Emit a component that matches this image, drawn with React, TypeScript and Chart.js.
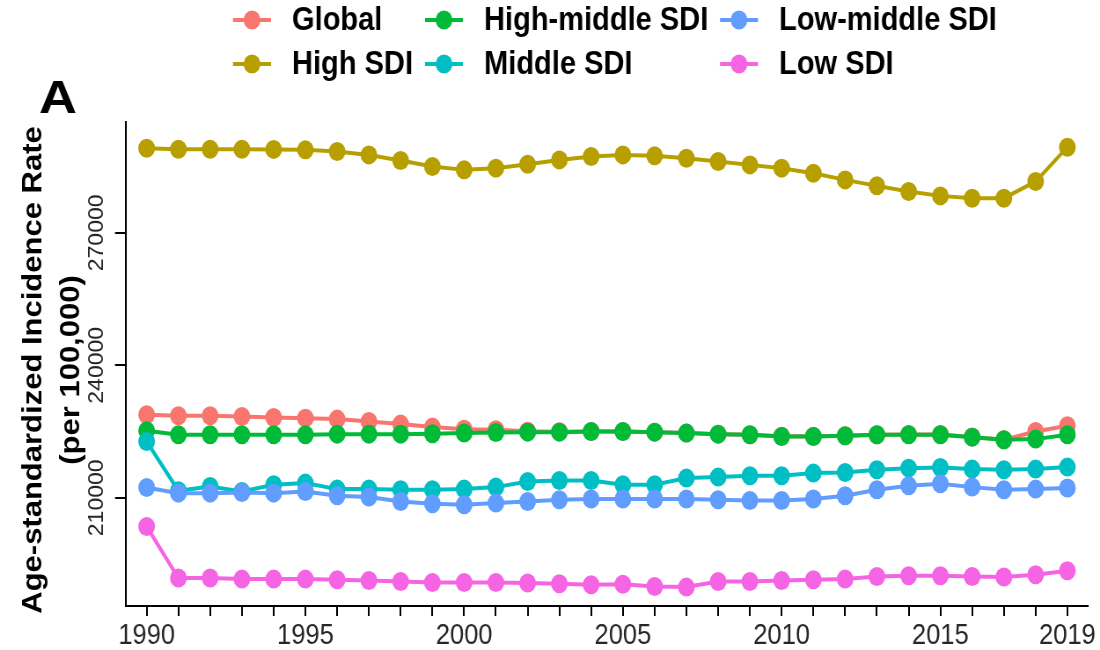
import React, { useEffect, useRef } from "react";
import { Chart, registerables } from "chart.js";

Chart.register(...registerables);

// ---------------- data ----------------
const years = [
  1990, 1991, 1992, 1993, 1994, 1995, 1996, 1997, 1998, 1999,
  2000, 2001, 2002, 2003, 2004, 2005, 2006, 2007, 2008, 2009,
  2010, 2011, 2012, 2013, 2014, 2015, 2016, 2017, 2018, 2019,
];
const xLabelYears = [1990, 1995, 2000, 2005, 2010, 2015, 2019];
const yTickValues = [210000, 240000, 270000];
const yTickLabels = ["210000", "240000", "270000"];

const seriesNames = ["Global", "High SDI", "High-middle SDI", "Middle SDI", "Low-middle SDI", "Low SDI"];
const seriesColors = ["#F8766D", "#B79F00", "#00BA38", "#00BFC4", "#619CFF", "#F564E3"];

const globalRate = [
  228790, 228570, 228570, 228400, 228180, 228040, 227820, 227270, 226690, 226010,
  225550, 225400, 225060, 224940, 225010, 225010, 224870, 224650, 224420, 224260,
  223920, 223920, 224040, 224260, 224330, 224330, 223750, 223150, 225000, 226300,
];
const highSDI = [
  289170, 288950, 288950, 288950, 288900, 288790, 288400, 287650, 286370, 285010,
  284260, 284650, 285550, 286520, 287270, 287650, 287430, 286910, 286140, 285390,
  284650, 283510, 281990, 280640, 279350, 278370, 277850, 277850, 281610, 289400,
];
const highMiddleSDI = [
  225170, 224260, 224260, 224260, 224260, 224260, 224420, 224420, 224420, 224490,
  224650, 224780, 224870, 224870, 225010, 225010, 224870, 224650, 224420, 224260,
  223880, 223880, 224040, 224260, 224260, 224260, 223740, 223130, 223290, 224260,
];
const middleSDI = [
  222750, 211590, 212560, 211430, 212940, 213330, 211970, 211970, 211810, 211810,
  211970, 212420, 213690, 213920, 213920, 212940, 212940, 214460, 214690, 214980,
  214980, 215590, 215730, 216340, 216720, 216860, 216500, 216340, 216500, 216950,
];
const lowMiddleSDI = [
  212330, 211060, 211060, 211200, 211060, 211430, 210450, 210160, 209160, 208640,
  208420, 208800, 209160, 209550, 209710, 209710, 209710, 209710, 209550, 209390,
  209390, 209710, 210450, 211810, 212720, 213170, 212420, 211810, 211970, 212200,
];
const lowSDI = [
  203500, 191820, 191820, 191590, 191590, 191590, 191440, 191280, 191050, 190820,
  190820, 190820, 190690, 190530, 190300, 190420, 189920, 189780, 191050, 191050,
  191280, 191440, 191590, 192180, 192340, 192340, 192180, 192050, 192570, 193470,
];

// ---------------- layout ----------------
const SX = 0.88; // horizontal compression of the reference picture
const CANVAS_W = 1250;
const CANVAS_H = 650;
const FONT = "'Liberation Sans', Arial, Helvetica, sans-serif";
const ix = (px: number) => px / SX;

const PLOT_LEFT = 126;
const PLOT_RIGHT = 1088;
const PLOT_TOP = 122;
const PLOT_BOTTOM = 606;

const LEGEND_MARK_X = [252, 444, 739];
const LEGEND_ROW_Y = [20, 64];
const POINT_R = 9.5;

export default function App() {
  const ref = useRef<HTMLCanvasElement>(null);

  useEffect(() => {
    if (!ref.current) return;
    const seriesValues = [globalRate, highSDI, highMiddleSDI, middleSDI, lowMiddleSDI, lowSDI];
    const datasets = seriesNames.map((name, i) => ({
      label: name,
      data: years.map((yr, k) => ({ x: yr, y: seriesValues[i][k] })),
      borderColor: seriesColors[i],
      backgroundColor: seriesColors[i],
      pointBackgroundColor: seriesColors[i],
      pointBorderColor: seriesColors[i],
      pointBorderWidth: 0,
      pointRadius: POINT_R,
      pointHoverRadius: POINT_R,
      borderWidth: 4,
      tension: 0,
      order: seriesNames.length - 1 - i,
    }));

    const decor = {
      id: "decor",
      afterDraw(chart: any) {
        const ctx = chart.ctx as CanvasRenderingContext2D;
        const yScale = chart.scales.y;
        ctx.save();

        // y tick labels (rotated)
        ctx.fillStyle = "#262626";
        ctx.font = `23px ${FONT}`;
        ctx.textAlign = "center";
        ctx.textBaseline = "middle";
        yTickValues.forEach((v, i) => {
          const py = yScale.getPixelForValue(v);
          ctx.save();
          ctx.translate(ix(97), py);
          ctx.rotate(-Math.PI / 2);
          ctx.fillText(yTickLabels[i], 0, 0);
          ctx.restore();
        });

        // y axis title
        ctx.fillStyle = "#000000";
        ctx.font = `bold 31px ${FONT}`;
        const cy = (PLOT_TOP + PLOT_BOTTOM) / 2 + 6;
        [["Age-standardized Incidence Rate", 34], ["(per 100,000)", 72]].forEach(([t, x]) => {
          ctx.save();
          ctx.translate(ix(x as number), cy);
          ctx.rotate(-Math.PI / 2);
          ctx.fillText(t as string, 0, 0);
          ctx.restore();
        });

        // panel letter
        ctx.save();
        ctx.font = `bold 46px ${FONT}`;
        ctx.textAlign = "left";
        ctx.textBaseline = "alphabetic";
        ctx.translate(ix(39), 113);
        ctx.scale(1.3, 1);
        ctx.fillText("A", 0, 0);
        ctx.restore();

        // legend (column-major, 3 columns x 2 rows)
        seriesNames.forEach((name, i) => {
          const col = Math.floor(i / 2);
          const row = i % 2;
          const cx = ix(LEGEND_MARK_X[col]);
          const y = LEGEND_ROW_Y[row];
          ctx.strokeStyle = seriesColors[i];
          ctx.lineWidth = 4;
          ctx.beginPath();
          ctx.moveTo(cx - ix(19), y);
          ctx.lineTo(cx + ix(19), y);
          ctx.stroke();
          ctx.fillStyle = seriesColors[i];
          ctx.beginPath();
          ctx.arc(cx, y, POINT_R, 0, Math.PI * 2);
          ctx.fill();
          ctx.fillStyle = "#000000";
          ctx.font = `bold 33px ${FONT}`;
          ctx.textAlign = "left";
          ctx.textBaseline = "middle";
          ctx.fillText(name, cx + ix(40), y + 1);
        });

        ctx.restore();
      },
    };

    const chart = new Chart(ref.current, {
      type: "line",
      data: { datasets: datasets as any },
      options: {
        animation: false,
        responsive: true,
        maintainAspectRatio: false,
        events: [],
        layout: {
          padding: { left: 0, top: PLOT_TOP, right: CANVAS_W - ix(PLOT_RIGHT), bottom: 0 },
        },
        plugins: {
          legend: { display: false },
          tooltip: { enabled: false },
          title: { display: false },
        },
        scales: {
          x: {
            type: "linear",
            min: 1989.35,
            max: 2019.65,
            afterBuildTicks: (s: any) => {
              s.ticks = years.map((v) => ({ value: v }));
            },
            afterFit: (s: any) => {
              s.height = CANVAS_H - PLOT_BOTTOM;
            },
            ticks: {
              autoSkip: false,
              maxRotation: 0,
              minRotation: 0,
              padding: 3,
              color: "#262626",
              font: { size: 29, family: FONT },
              callback: (v: any) => (xLabelYears.includes(Number(v)) ? String(v) : ""),
            },
            grid: {
              drawOnChartArea: false,
              drawTicks: true,
              tickLength: 10,
              color: "#000000",
              lineWidth: 2,
            },
            border: { display: true, color: "#000000", width: 2 },
          },
          y: {
            type: "linear",
            min: 185500,
            max: 295100,
            afterBuildTicks: (s: any) => {
              s.ticks = yTickValues.map((v) => ({ value: v }));
            },
            afterFit: (s: any) => {
              s.width = ix(PLOT_LEFT);
            },
            ticks: { display: false },
            grid: {
              drawOnChartArea: false,
              drawTicks: true,
              tickLength: ix(11),
              color: "#000000",
              lineWidth: 2,
            },
            border: { display: true, color: "#000000", width: 2 },
          },
        },
      },
      plugins: [decor],
    });
    return () => chart.destroy();
  }, []);

  return (
    <div
      style={{
        position: "fixed",
        left: 0,
        top: 0,
        width: 1100,
        height: 650,
        overflow: "hidden",
        background: "#ffffff",
      }}
    >
      <div
        style={{
          width: CANVAS_W,
          height: CANVAS_H,
          transform: `scaleX(${SX})`,
          transformOrigin: "0 0",
        }}
      >
        <canvas ref={ref} />
      </div>
    </div>
  );
}
